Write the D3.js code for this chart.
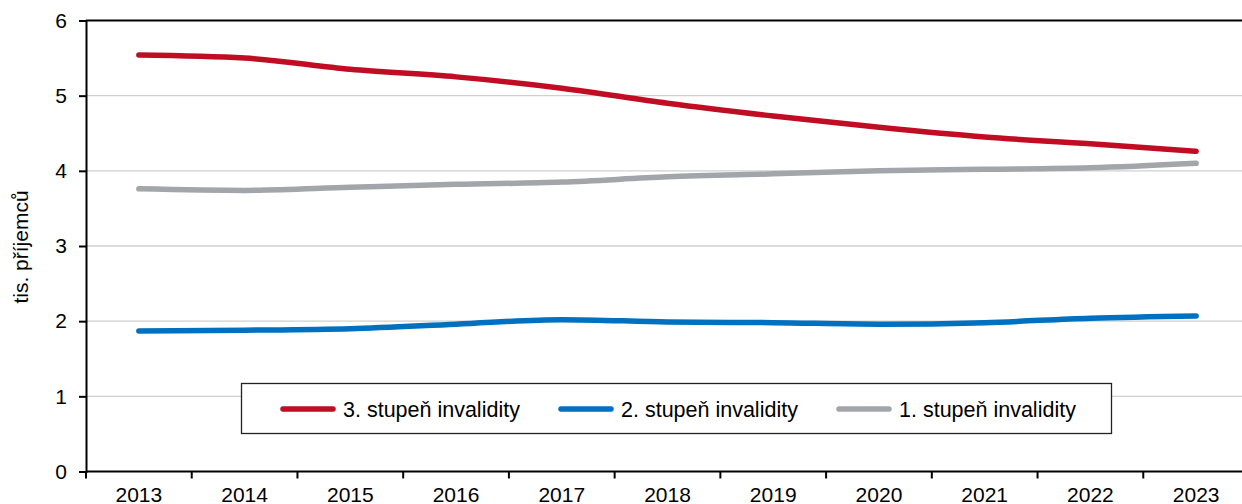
<!DOCTYPE html>
<html>
<head>
<meta charset="utf-8">
<script src="https://cdn.jsdelivr.net/npm/d3@7"></script>
<style>
  body { margin: 0; background: #fff; }
  svg { display: block; font-family: "Liberation Sans", Arial, sans-serif; }
</style>
</head>
<body>
<svg id="chart" width="1242" height="504"></svg>
<script>
// data
var years = ["2013","2014","2015","2016","2017","2018","2019","2020","2021","2022","2023"];
var stupen3 = [5.54, 5.50, 5.35, 5.25, 5.10, 4.90, 4.73, 4.58, 4.45, 4.36, 4.26];
var stupen2 = [1.87, 1.88, 1.90, 1.96, 2.02, 1.99, 1.98, 1.96, 1.98, 2.04, 2.07];
var stupen1 = [3.76, 3.74, 3.78, 3.82, 3.85, 3.92, 3.96, 4.00, 4.02, 4.04, 4.10];
var yTicks = [0, 1, 2, 3, 4, 5, 6];

var series = [
  { name: "3. stupeň invalidity", values: stupen3, color: "#c00d24" },
  { name: "2. stupeň invalidity", values: stupen2, color: "#0070c0" },
  { name: "1. stupeň invalidity", values: stupen1, color: "#a2a5a9" }
];

var svg = d3.select("#chart");
var m = { left: 86, right: 1249, top: 20.5, bottom: 471.5 };

var x = d3.scaleBand().domain(years).range([m.left, m.right]);
var y = d3.scaleLinear().domain([0, 6]).range([m.bottom, m.top]);

// gridlines
svg.append("g")
  .selectAll("line")
  .data(yTicks.filter(function(d) { return d > 0; }))
  .enter().append("line")
  .attr("x1", m.left).attr("x2", 1242)
  .attr("y1", function(d) { return y(d); })
  .attr("y2", function(d) { return y(d); })
  .attr("stroke", function(d) { return d === 6 ? "#000" : "#d0d0d0"; })
  .attr("stroke-width", function(d) { return d === 6 ? 2 : 1.3; });

// y axis
var yAxis = svg.append("g")
  .attr("transform", "translate(" + m.left + ",0)")
  .call(d3.axisLeft(y).tickValues(yTicks).tickSize(7).tickPadding(12).tickFormat(d3.format("d")));
yAxis.select(".domain").attr("stroke", "#000").attr("stroke-width", 2);
yAxis.selectAll(".tick line").attr("stroke", "#000").attr("stroke-width", 2);
yAxis.selectAll("text").attr("font-size", 21).attr("fill", "#000")
  .attr("font-family", "Liberation Sans, Arial, sans-serif");

// x axis
var xAxis = svg.append("g")
  .attr("transform", "translate(0," + m.bottom + ")")
  .call(d3.axisBottom(x).tickSize(0).tickPadding(16));
xAxis.select(".domain").remove();
xAxis.selectAll("text").attr("font-size", 21).attr("fill", "#000")
  .attr("font-family", "Liberation Sans, Arial, sans-serif");
svg.append("line")
  .attr("x1", m.left).attr("x2", 1242).attr("y1", m.bottom).attr("y2", m.bottom)
  .attr("stroke", "#000").attr("stroke-width", 2);
// category boundary ticks
svg.append("g").selectAll("line")
  .data(years)
  .enter().append("line")
  .attr("x1", function(d) { return x(d); })
  .attr("x2", function(d) { return x(d); })
  .attr("y1", m.bottom).attr("y2", m.bottom + 7)
  .attr("stroke", "#000").attr("stroke-width", 2);

// y axis title
svg.append("text")
  .attr("transform", "translate(28," + 247 + ") rotate(-90)")
  .attr("text-anchor", "middle")
  .attr("font-size", 21)
  .text("tis. příjemců");

// lines
var line = d3.line()
  .x(function(d, i) { return x(years[i]) + x.bandwidth() / 2; })
  .y(function(d) { return y(d); })
  .curve(d3.curveMonotoneX);

svg.append("g").selectAll("path")
  .data(series)
  .enter().append("path")
  .attr("d", function(s) { return line(s.values); })
  .attr("fill", "none")
  .attr("stroke", function(s) { return s.color; })
  .attr("stroke-width", 5.5)
  .attr("stroke-linecap", "round")
  .attr("stroke-linejoin", "round");

// legend
var legend = svg.append("g");
legend.append("rect")
  .attr("x", 241.5).attr("y", 383.5).attr("width", 870).attr("height", 50)
  .attr("fill", "#fff").attr("stroke", "#222").attr("stroke-width", 1.3);
var items = legend.selectAll("g.item")
  .data(series)
  .enter().append("g")
  .attr("class", "item")
  .attr("transform", function(d, i) { return "translate(" + (283 + i * 278) + ",409)"; });
items.append("line")
  .attr("x1", 0).attr("x2", 50)
  .attr("stroke", function(d) { return d.color; })
  .attr("stroke-width", 5.5)
  .attr("stroke-linecap", "round");
items.append("text")
  .attr("x", 60).attr("dy", "0.35em")
  .attr("font-size", 21.5)
  .text(function(d) { return d.name; });
</script>
</body>
</html>
